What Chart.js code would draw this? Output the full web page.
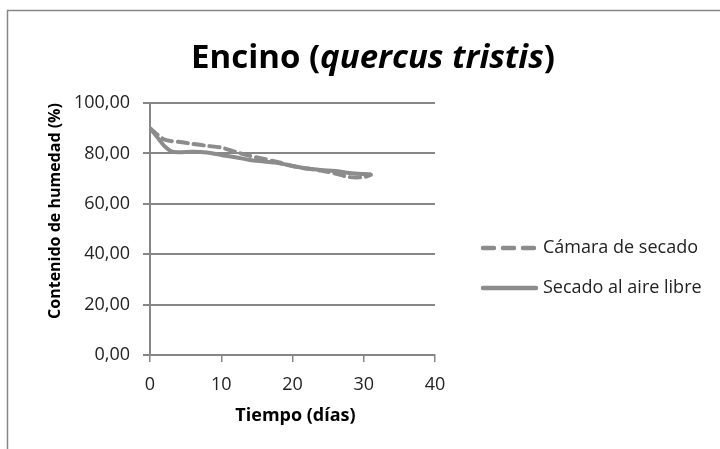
<!DOCTYPE html>
<html><head><meta charset="utf-8">
<script src="https://cdn.jsdelivr.net/npm/chart.js@4"></script>
<style>html,body{margin:0;padding:0;background:#fff}#wrap{width:720px;height:449px;position:relative}</style>
</head><body><div id="wrap"><canvas id="c" width="720" height="449"></canvas></div>
<script>
const titleParts = ['Encino (', 'quercus tristis', ')'];
const xAxisTitle = 'Tiempo (días)';
const yAxisTitle = 'Contenido de humedad (%)';
const seriesNames = ['Cámara de secado', 'Secado al aire libre'];
const camaraDays   = [0, 2, 4, 6, 8, 10, 12, 14, 16, 18, 20, 22, 24, 26, 28, 30, 31];
const camaraValues = [90, 85.5, 84.6, 83.8, 83, 82.3, 80.6, 79, 77.8, 76.5, 75, 74, 73.2, 72, 70.6, 70.6, 71.5];
const aireDays   = [0, 1, 2, 3, 4, 6, 8, 10, 12, 14, 16, 18, 20, 22, 24, 26, 28, 30, 31];
const aireValues = [90, 86.5, 83, 80.8, 80.5, 80.7, 80.4, 79.4, 78.5, 77.4, 76.8, 76.2, 75, 74, 73.4, 73, 72.2, 71.8, 71.7];
const xTicks = [0, 10, 20, 30, 40];
const yTicks = [0, 20, 40, 60, 80, 100];

const GRAY = '#868686';
const LINE = '#8c8c8c';
const FONT = '"Open Sans", Lato, sans-serif';

const pts = (xs, ys) => xs.map((x, i) => ({x, y: ys[i]}));

const decor = {
  id: 'decor',
  afterDraw(chart) {
    const ctx = chart.ctx, a = chart.chartArea;
    ctx.save();
    // frame
    ctx.strokeStyle = GRAY; ctx.lineWidth = 1.5;
    ctx.strokeRect(7.5, 10.5, 900, 900);
    // title
    ctx.fillStyle = '#000'; ctx.textBaseline = 'alphabetic';
    const fN = 'bold 33px ' + FONT, fI = 'italic bold 33px ' + FONT;
    const fonts = [fN, fI, fN];
    let w = 0; const ws = titleParts.map((t, i) => { ctx.font = fonts[i]; const m = ctx.measureText(t).width; w += m; return m; });
    let x = 373 - w / 2;
    titleParts.forEach((t, i) => { ctx.font = fonts[i]; ctx.textAlign = 'left'; ctx.fillText(t, x, 68); x += ws[i]; });
    // axis titles
    ctx.font = 'bold 18px ' + FONT; ctx.textAlign = 'center'; ctx.textBaseline = 'middle';
    ctx.fillStyle = '#000';
    ctx.fillText(xAxisTitle, (a.left + a.right) / 2 + 3, a.bottom + 61);
    ctx.save();
    ctx.translate(a.left - 95, 211);
    ctx.rotate(-Math.PI / 2);
    ctx.font = 'bold 16px ' + FONT;
    ctx.fillText(yAxisTitle, 0, 0);
    ctx.restore();
    // legend
    const ly = [248, 288];
    chart.data.datasets.forEach((ds, i) => {
      ctx.strokeStyle = ds.borderColor; ctx.lineWidth = 4.5; ctx.lineCap = 'round';
      ctx.setLineDash(ds.borderDash && ds.borderDash.length ? [11, 9] : []);
      ctx.beginPath(); ctx.moveTo(483, ly[i]); ctx.lineTo(536, ly[i]); ctx.stroke();
      ctx.setLineDash([]);
      ctx.fillStyle = '#222'; ctx.font = '18px ' + FONT; ctx.textAlign = 'left';
      ctx.fillText(ds.label, 543, ly[i]);
    });
    ctx.restore();
  }
};

new Chart(document.getElementById('c'), {
  type: 'line',
  data: {
    datasets: [
      { label: seriesNames[0], data: pts(camaraDays, camaraValues), borderColor: LINE, borderWidth: 4, borderDash: [10, 6], borderCapStyle: 'round', pointRadius: 0, tension: 0.3, fill: false },
      { label: seriesNames[1], data: pts(aireDays, aireValues), borderColor: LINE, borderWidth: 4, pointRadius: 0, tension: 0.3, fill: false }
    ]
  },
  options: {
    responsive: false, animation: false, devicePixelRatio: 1,
    layout: { padding: { top: 103, right: 285, bottom: 0, left: 0 } },
    plugins: { legend: { display: false }, title: { display: false }, tooltip: { enabled: false } },
    scales: {
      x: {
        type: 'linear', min: 0, max: 40,
        afterBuildTicks: s => { s.ticks = xTicks.map(v => ({value: v})); },
        afterFit: s => { s.height = 94; },
        grid: { drawOnChartArea: false, color: GRAY, tickLength: 7, lineWidth: 1.5 },
        border: { color: GRAY, width: 2 },
        ticks: { color: '#222', font: { family: FONT, size: 18 }, padding: 12, maxRotation: 0 }
      },
      y: {
        min: 0, max: 100,
        afterBuildTicks: s => { s.ticks = yTicks.map(v => ({value: v})); },
        afterFit: s => { s.width = 150; },
        grid: { color: GRAY, lineWidth: 2, tickLength: 7 },
        border: { color: GRAY, width: 2 },
        ticks: { color: '#222', font: { family: FONT, size: 18 }, padding: 13,
          callback: v => v.toFixed(2).replace('.', ',') }
      }
    }
  },
  plugins: [decor]
});
</script></body></html>
